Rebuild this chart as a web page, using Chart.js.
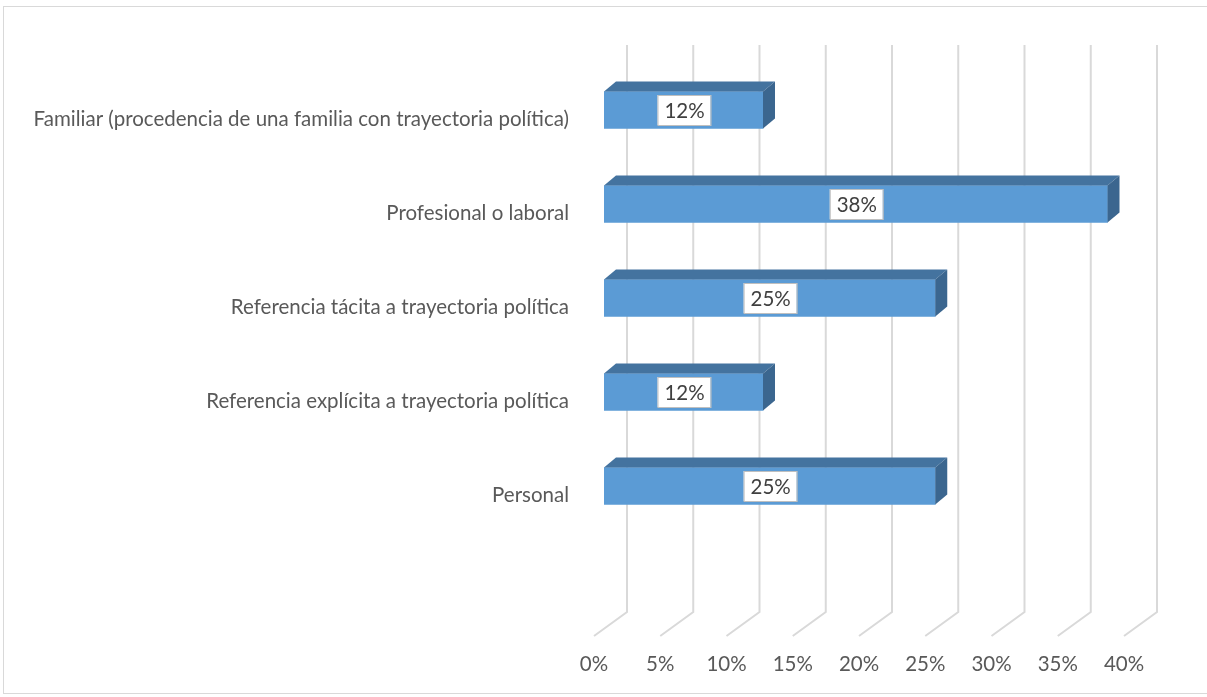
<!DOCTYPE html>
<html>
<head>
<meta charset="utf-8">
<script src="https://cdn.jsdelivr.net/npm/chart.js@4.4.1/dist/chart.umd.min.js"></script>
<style>
  html, body { margin: 0; padding: 0; background: #fff; overflow: hidden; }
  #frame { position: absolute; left: 3px; top: 6px; width: 1204px; height: 688px; border: 1px solid #d9d9d9; border-right: none; box-sizing: border-box; }
  #wrap { position: absolute; left: 0; top: 0; width: 1207px; height: 697px; }
</style>
</head>
<body>
<div id="frame"></div>
<div id="wrap"><canvas id="bar-chart"></canvas></div>
<script>
var categories = [
    "Familiar (procedencia de una familia con trayectoria política)",
    "Profesional o laboral",
    "Referencia tácita a trayectoria política",
    "Referencia explícita a trayectoria política",
    "Personal"
];
var percentages = [12, 38, 25, 12, 25];
var x_ticks = [0, 5, 10, 15, 20, 25, 30, 35, 40];

var font_family = "Lato, 'Open Sans', sans-serif";
var font_size = 20.5;
var depth_x = 12, depth_y = 10;

// floor + back wall gridlines, Excel 3D style
var wall_grid = {
    id: 'wall_grid',
    beforeDatasetsDraw: function (chart)
    {
        var ctx = chart.ctx;
        var xs = chart.scales.x;
        ctx.save();
        ctx.strokeStyle = '#d9d9d9';
        ctx.lineWidth = 2;
        x_ticks.forEach(function (v)
        {
            var px = xs.getPixelForValue(v);
            ctx.beginPath();
            ctx.moveTo(px + 23, 45);
            ctx.lineTo(px + 23, 612);
            ctx.lineTo(px - 10, 636);
            ctx.stroke();
        });
        ctx.restore();
    }
};

// top and side faces of each bar, then the value boxes
var bar_3d = {
    id: 'bar_3d',
    afterDatasetsDraw: function (chart)
    {
        var ctx = chart.ctx;
        var meta = chart.getDatasetMeta(0);
        ctx.save();
        meta.data.forEach(function (bar, i)
        {
            var top = bar.y - bar.height / 2;
            var bottom = bar.y + bar.height / 2;
            ctx.fillStyle = '#44739f';
            ctx.beginPath();
            ctx.moveTo(bar.base, top);
            ctx.lineTo(bar.base + depth_x, top - depth_y);
            ctx.lineTo(bar.x + depth_x, top - depth_y);
            ctx.lineTo(bar.x, top);
            ctx.closePath();
            ctx.fill();

            ctx.fillStyle = '#3b668f';
            ctx.beginPath();
            ctx.moveTo(bar.x, top);
            ctx.lineTo(bar.x + depth_x, top - depth_y);
            ctx.lineTo(bar.x + depth_x, bottom - depth_y);
            ctx.lineTo(bar.x, bottom);
            ctx.closePath();
            ctx.fill();

            var text = percentages[i] + '%';
            var cx = (bar.base + bar.x) / 2;
            ctx.fillStyle = '#ffffff';
            ctx.strokeStyle = '#bfbfbf';
            ctx.lineWidth = 1;
            ctx.fillRect(cx - 26, bar.y - 15, 53, 30);
            ctx.strokeRect(cx - 26 + 0.5, bar.y - 15 + 0.5, 53, 30);
            ctx.fillStyle = '#404040';
            ctx.font = font_size + 'px ' + font_family;
            ctx.textAlign = 'center';
            ctx.textBaseline = 'middle';
            ctx.fillText(text, cx + 1, bar.y + 1);
        });
        ctx.restore();
    }
};

var m_chart = new Chart(document.getElementById('bar-chart'), {
    type: 'bar',
    data: {
        labels: categories,
        datasets: [
            {
                label: 'porcentaje',
                backgroundColor: '#5b9bd5',
                data: percentages,
                barThickness: 37
            }
        ]
    },
    options: {
        indexAxis: 'y',
        responsive: true,
        maintainAspectRatio: false,
        animation: false,
        layout: { padding: { top: 63, right: 73, left: 0, bottom: 0 } },
        plugins: {
            legend: { display: false },
            tooltip: { enabled: false }
        },
        scales: {
            x: {
                min: 0,
                max: 40,
                afterBuildTicks: function (scale)
                {
                    scale.ticks = x_ticks.map(function (v) { return { value: v }; });
                },
                afterFit: function (scale)
                {
                    scale.height = 164;
                    // the big label padding shouldn't push the plot inward
                    scale.paddingLeft = 0;
                    scale.paddingRight = 0;
                },
                grid: { display: false, drawTicks: false },
                border: { display: false },
                ticks: {
                    padding: 119,
                    labelOffset: -10,
                    color: '#595959',
                    font: { family: font_family, size: font_size },
                    maxRotation: 0,
                    callback: function (v) { return v + '%'; }
                }
            },
            y: {
                afterFit: function (scale) { scale.width = 604; },
                grid: { display: false, drawTicks: false },
                border: { display: false },
                ticks: {
                    padding: 35,
                    labelOffset: 9,
                    color: '#595959',
                    font: { family: font_family, size: font_size }
                }
            }
        }
    },
    plugins: [wall_grid, bar_3d]
});
</script>
</body>
</html>
